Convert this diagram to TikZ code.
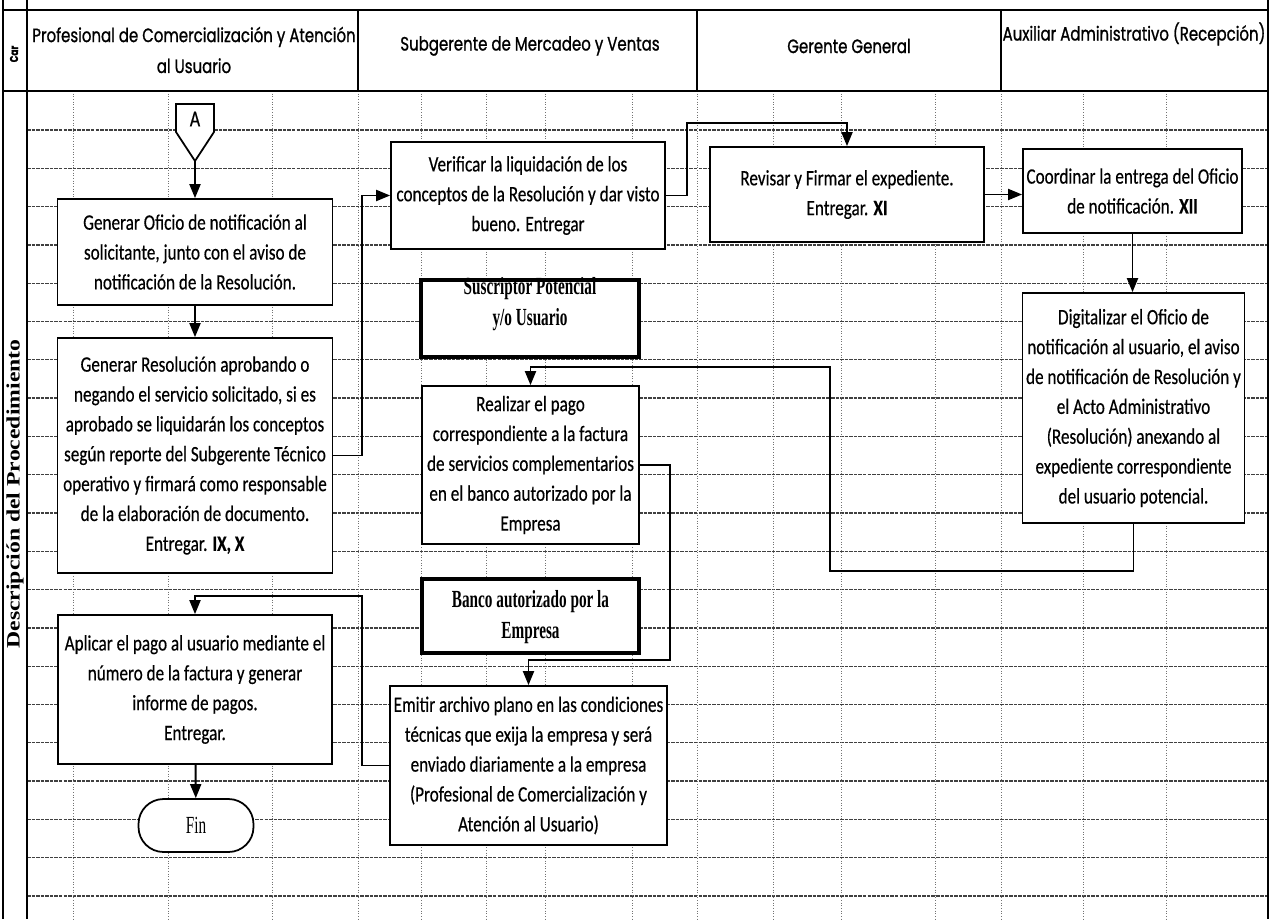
\documentclass[tikz,border=0pt]{standalone}
\usepackage{fontspec}
\setmainfont{Carlito}[FakeStretch=0.78,FakeBold=0.4]
\newfontfamily\headfont{Poppins}[FakeStretch=0.775,FakeBold=1]
\newfontfamily\actorfont{Liberation Serif}[FakeStretch=0.62]
\newfontfamily\sidefont{Liberation Serif}
\usetikzlibrary{arrows.meta}

\begin{document}
\begin{tikzpicture}[x=0.02cm,y=-0.02cm,
	task/.style={draw,line width=1pt,fill=white,align=center,inner sep=2pt,font=\fontsize{12.5}{17}\selectfont},
	actor/.style={draw,line width=2pt,fill=white},
	actortext/.style={align=center,font=\actorfont\bfseries\fontsize{14}{17.6}\selectfont},
	lane/.style={align=center,font=\headfont\fontsize{11}{17.6}\selectfont},
	flow/.style={line width=1.1pt,-{Triangle[length=0.28cm,width=0.22cm]}},
	gridh/.style={black!75,line width=0.7pt,dash pattern=on 2pt off 0.6pt},
	gridv/.style={black!55,line width=0.5pt,densely dotted},
	frame/.style={line width=1.4pt}]
	\useasboundingbox (0,0) rectangle (1270,919);
	
	\foreach \k in {0,...,20}
		\draw[gridh] (27,130+38.3*\k) -- (1268,130+38.3*\k);
	\foreach \gx in {73,168,272,358,421,486,545,632,697,773,841,935,1001,1083,1166}
		\draw[gridv] (\gx,91) -- (\gx,919);
	
	\draw[frame] (3,0) -- (3,919);
	\draw[frame] (27,0) -- (27,919);
	\draw[frame] (1268,0) -- (1268,919);
	\draw[frame] (3,10) -- (1268,10);
	\draw[frame] (3,91) -- (1268,91);
	\draw[frame] (358,10) -- (358,91);
	\draw[frame] (697,10) -- (697,91);
	\draw[frame] (1001,10) -- (1001,91);
	
	\node[rotate=90,font=\headfont\bfseries\fontsize{6.5}{8}\selectfont] (car) at (14,54) {Car};
	\node[rotate=90,font=\sidefont\bfseries\fontsize{13.5}{16}\selectfont] (desc) at (15,494) {\scalebox{1}[0.8]{Descripción del Procedimiento}};
	
	\node[lane] (lane1) at (194,50) {Profesional de Comercialización y Atención\\ al Usuario};
	\node[lane] (lane2) at (530,46) {Subgerente de Mercadeo y Ventas};
	\node[lane] (lane3) at (849,46) {Gerente General};
	\node[lane] (lane4) at (1134,34) {Auxiliar Administrativo (Recepción)};
	
	\draw[line width=1pt,fill=white] (176,104) -- (214,104) -- (214,132) -- (195,161) coordinate (Atip) -- (176,132) -- cycle;
	\node[font=\fontsize{13}{15}\selectfont] (conA) at (195,119) {A};
	
	\node[task,minimum width=5.5cm,minimum height=2.12cm] (oficio) at (195,252) {Generar Oficio de notificación al\\ solicitante, junto con el aviso de\\ notificación de la Resolución.};
	\node[task,minimum width=5.5cm,minimum height=4.7cm] (resol) at (195,455.5) {Generar Resolución aprobando o\\ negando el servicio solicitado, si es\\ aprobado se liquidarán los conceptos\\ según reporte del Subgerente Técnico\\ operativo y firmará como responsable\\ de la elaboración de documento.\\ Entregar. \textbf{IX, X}};
	\node[task,minimum width=5.48cm,minimum height=2.98cm] (aplicar) at (195,689.5) {Aplicar el pago al usuario mediante el\\ número de la factura y generar\\ informe de pagos.\\ Entregar.};
	\node[draw,line width=1pt,fill=white,rounded corners=0.5cm,minimum width=2.3cm,minimum height=1.06cm,font=\actorfont\fontsize{14}{16}\selectfont] (fin) at (196,825.5) {Fin};
	
	\node[task,minimum width=5.48cm,minimum height=2.14cm] (verif) at (528,195.5) {Verificar la liquidación de los\\ conceptos de la Resolución y dar visto\\ bueno. Entregar};
	\node[actor,minimum width=4.36cm,minimum height=1.54cm] (susc) at (530,318.5) {};
	\node[actortext] (susctxt) at (530,304) {Suscriptor Potencial\\ y/o Usuario};
	\node[task,minimum width=4.34cm,minimum height=3.16cm] (pago) at (530.5,465) {Realizar el pago\\ correspondiente a la factura\\ de servicios complementarios\\ en el banco autorizado por la\\ Empresa};
	\node[actor,minimum width=4.34cm,minimum height=1.48cm] (banco) at (530.5,616) {};
	\node[actortext] (bancotxt) at (530.5,617) {Banco autorizado por la\\ Empresa};
	\node[task,minimum width=5.42cm,minimum height=3.18cm] (plano) at (528.5,765.5) {Emitir archivo plano en las condiciones\\ técnicas que exija la empresa y será\\ enviado diariamente a la empresa\\ (Profesional de Comercialización y\\ Atención al Usuario)};
	
	\node[task,minimum width=5.48cm,minimum height=1.9cm] (revisar) at (847,194.5) {Revisar y Firmar el expediente.\\ Entregar. \textbf{XI}};
	\node[task,minimum width=4.38cm,minimum height=1.68cm] (coord) at (1132.5,191) {Coordinar la entrega del Oficio\\ de notificación. \textbf{XII}};
	\node[task,minimum width=4.38cm,minimum height=4.6cm] (digit) at (1133.5,408) {Digitalizar el Oficio de\\ notificación al usuario, el aviso\\ de notificación de Resolución y\\ el Acto Administrativo\\ (Resolución) anexando al\\ expediente correspondiente\\ del usuario potencial.};
	
	\coordinate (j1) at (687,123);
	\coordinate (j2) at (830,571);
	\coordinate (j3) at (830,367);
	\coordinate (j4) at (670,660);
	\coordinate (j5) at (362,596);
	
	\draw[flow] (Atip) -- (oficio.north);
	\draw[flow] (oficio) -- (resol);
	\draw[flow] (resol.east) -- ++(29,0) |- (verif.west);
	\draw[flow] (verif.east) -| (j1) -| (revisar.north);
	\draw[flow] (revisar.east) -- (revisar.east -| coord.west);
	\draw[flow] (coord) -- (coord |- digit.north);
	\draw[flow] (digit.south) |- (j2) -- (j3) -| (pago.north);
	\draw[flow] (pago.east) -| (j4) -| (plano.north);
	\draw[flow] (plano.west) -| (j5) -| (aplicar.north);
	\draw[flow] (aplicar) -- (fin);
	
\end{tikzpicture}
\end{document}
